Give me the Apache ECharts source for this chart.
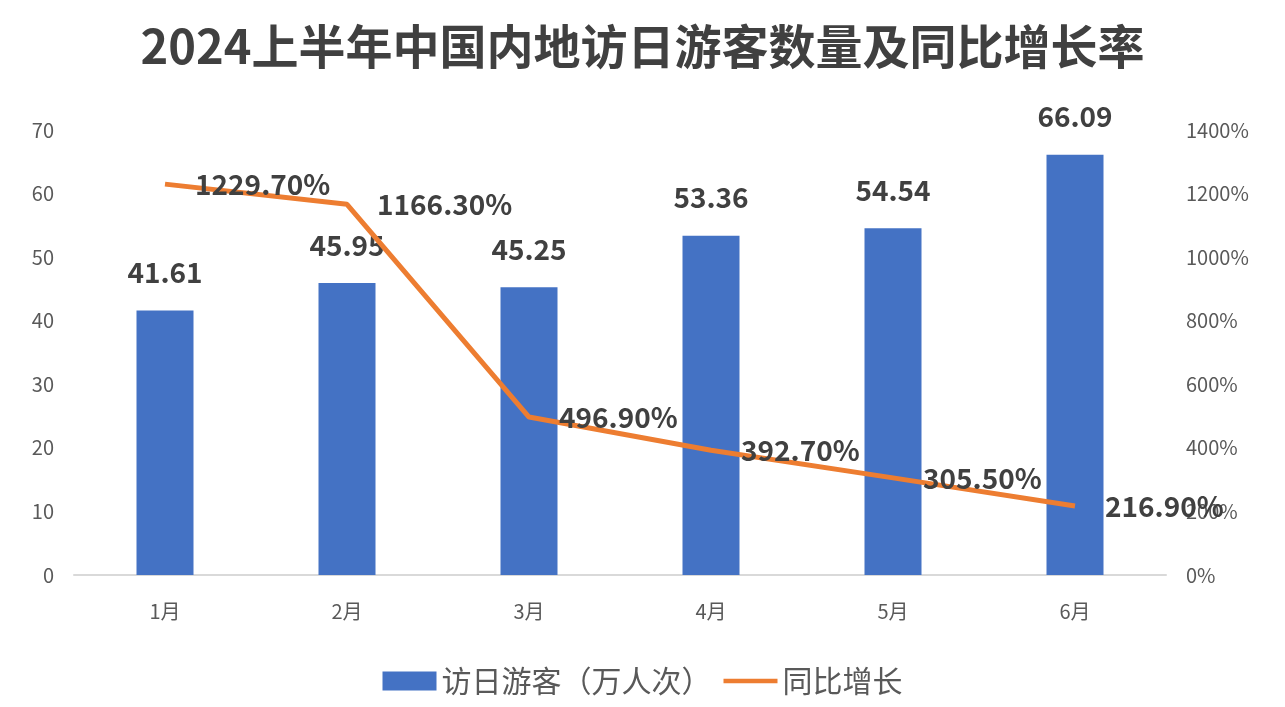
<!DOCTYPE html>
<html><head><meta charset="utf-8">
<script src="https://cdn.jsdelivr.net/npm/echarts@6/dist/echarts.min.js"></script>
<style>html,body{margin:0;padding:0;background:#fff}#c{width:1285px;height:707px}</style>
</head><body><div id="c"></div>
<script>
const months = ['1月','2月','3月','4月','5月','6月'];
const visitors = [41.61, 45.95, 45.25, 53.36, 54.54, 66.09];
const growth = [1229.7, 1166.3, 496.9, 392.7, 305.5, 216.9];
const titleText = '2024上半年中国内地访日游客数量及同比增长率';
const seriesNames = ['访日游客（万人次）', '同比增长'];

const font = '"Noto Sans CJK SC", "Open Sans", sans-serif';
const chart = echarts.init(document.getElementById('c'));
chart.setOption({
  animation: false,
  textStyle: {fontFamily: font},
  title: {text: titleText, left: 'center', top: 18,
    textStyle: {fontSize: 47, fontWeight: 'bold', color: '#404040', fontFamily: font}},
  legend: {bottom: 6, left: 'center', itemWidth: 54, itemHeight: 19, itemGap: 12,
    textStyle: {fontSize: 30, color: '#595959'},
    data: [{name: seriesNames[0], icon: 'rect'},
           {name: seriesNames[1], icon: 'path://M0,0 H70 V6 H0 Z'}]},
  grid: {left: 74, right: 119, top: 130, bottom: 132},
  xAxis: {type: 'category', data: months,
    axisLine: {lineStyle: {color: '#d9d9d9', width: 2}}, axisTick: {show: false},
    axisLabel: {fontSize: 20, color: '#595959', margin: 26}},
  yAxis: [
    {type: 'value', min: 0, max: 70, interval: 10, splitLine: {show: false},
      axisLabel: {fontSize: 20, color: '#595959', margin: 20}},
    {type: 'value', min: 0, max: 1400, interval: 200, splitLine: {show: false},
      axisLabel: {fontSize: 20, color: '#595959', margin: 20, formatter: v => v + '%'}}
  ],
  series: [
    {name: seriesNames[0], type: 'bar', data: visitors, barWidth: 57,
      itemStyle: {color: '#4472C4'},
      label: {show: true, position: 'top', distance: 24, fontSize: 28, fontWeight: 'bold', color: '#404040',
        formatter: p => p.value.toFixed(2)}},
    {name: seriesNames[1], type: 'line', yAxisIndex: 1, data: growth, showSymbol: true, symbol: 'circle', symbolSize: 0.1,
      lineStyle: {color: '#ED7D31', width: 5}, itemStyle: {color: '#ED7D31'},
      label: {show: true, position: 'right', distance: 30, fontSize: 28, fontWeight: 'bold', color: '#404040',
        formatter: p => p.value.toFixed(2) + '%'}}
  ]
});
</script></body></html>
